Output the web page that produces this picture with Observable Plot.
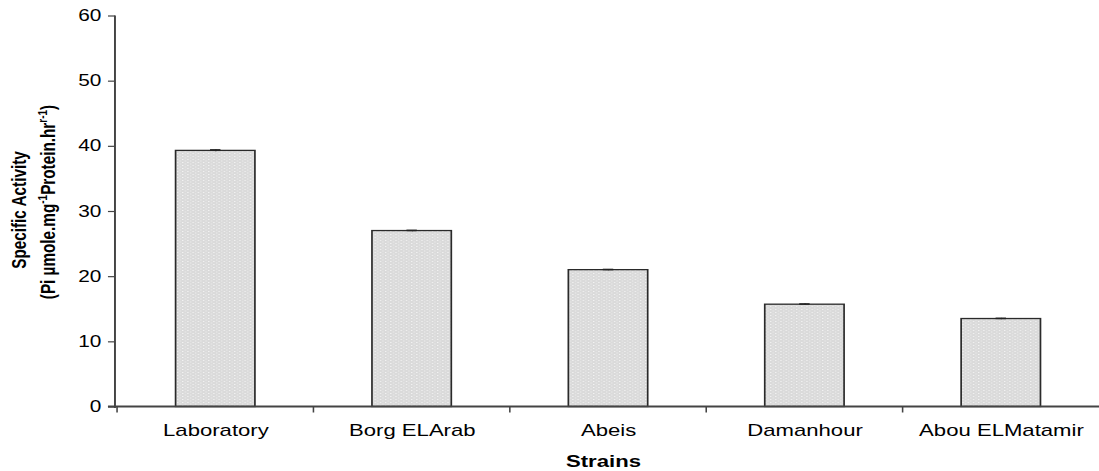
<!DOCTYPE html>
<html>
<head>
<meta charset="utf-8">
<script src="https://cdn.jsdelivr.net/npm/d3@7"></script>
<script src="https://cdn.jsdelivr.net/npm/@observablehq/plot@0.6"></script>
<style>
  html, body { margin: 0; padding: 0; background: #fff; }
  #chart { width: 1099px; height: 471px; overflow: hidden; }
</style>
</head>
<body>
<div id="chart"></div>
<script>
const strains = ["Laboratory", "Borg ELArab", "Abeis", "Damanhour", "Abou ELMatamir"];
const activity = [39.3, 27.0, 21.0, 15.7, 13.5];
const errors = [0.15, 0.1, 0.1, 0.1, 0.1];
const yTicks = [0, 10, 20, 30, 40, 50, 60];
const xTitle = "Strains";
const yTitle1 = "Specific Activity";

const data = strains.map((s, i) => ({strain: s, value: activity[i], err: errors[i]}));

// drawn on a narrower canvas, then stretched horizontally like the reference
const W = 845, H = 471, OUT_W = 1099;
const padL = 88.4, padR = 846.5, padT = 15.5, padB = 406.5;
const FONT = "'Liberation Sans', Arial, Helvetica, sans-serif";

const plot = Plot.plot({
  width: W, height: H,
  marginLeft: padL, marginRight: 0, marginTop: padT, marginBottom: H - padB,
  x: {domain: strains, range: [padL, padR], padding: 0, label: null},
  y: {domain: [0, 60], range: [padB, padT], label: null},
  style: {fontFamily: FONT, fontSize: "16px", color: "#000", background: "#fff"},
  marks: [
    Plot.barY(data, {x: "strain", y: "value", fill: "url(#dots)", stroke: "#2a2a2a", strokeWidth: 1.3, insetLeft: 45, insetRight: 45}),
    Plot.ruleX(data, {x: "strain", y1: d => d.value - d.err, y2: d => d.value + d.err, stroke: "#222", strokeWidth: 1}),
    Plot.tickY(data, {x: "strain", y: d => d.value + d.err, stroke: "#222", strokeWidth: 1.6, insetLeft: 71.5, insetRight: 71.5}),
    Plot.axisY({ticks: yTicks, tickSize: 5.4, tickPadding: 5.5, fontSize: 16, stroke: "#444", strokeWidth: 1.2, label: null}),
    Plot.axisX({tickSize: 0, tickPadding: 16.5, fontSize: 17, label: null})
  ]
});

const svg = d3.select(plot);
svg.attr("width", OUT_W).attr("height", H)
   .attr("viewBox", `0 0 ${W} ${H}`)
   .attr("preserveAspectRatio", "none")
   .style("width", OUT_W + "px").style("height", H + "px").style("max-width", "none");

// bar fill texture
const defs = svg.insert("defs", ":first-child");
const pat = defs.append("pattern").attr("id", "dots").attr("patternUnits", "userSpaceOnUse")
  .attr("width", 4).attr("height", 3);
pat.append("rect").attr("width", 4).attr("height", 3).attr("fill", "#dadada");
pat.append("rect").attr("x", 0).attr("y", 0).attr("width", 1).attr("height", 1).attr("fill", "#f2f2f2");
pat.append("rect").attr("x", 2).attr("y", 1.5).attr("width", 1).attr("height", 1).attr("fill", "#ececec");

const xs = plot.scale("x"), ys = plot.scale("y");
const y0 = ys.apply(0);
const g = svg.append("g").attr("stroke", "#444").attr("fill", "none");
// y axis line
g.append("line").attr("x1", padL).attr("x2", padL).attr("y1", ys.apply(60)).attr("y2", y0 + 1.5).attr("stroke-width", 1.5);
// x axis line
g.append("line").attr("x1", padL - 5.4).attr("x2", W).attr("y1", y0).attr("y2", y0).attr("stroke-width", 2);
// x ticks at category boundaries
strains.forEach(s => {
  const xb = xs.apply(s);
  g.append("line").attr("x1", xb).attr("x2", xb).attr("y1", y0).attr("y2", y0 + 6).attr("stroke-width", 1.2);
});

// x title
svg.append("text").attr("x", 464).attr("y", 467).attr("text-anchor", "middle")
  .attr("font-family", FONT).attr("font-weight", "bold").attr("font-size", 17).attr("fill", "#000")
  .text(xTitle);

// y title, two lines
svg.append("text").attr("transform", "translate(20,210) rotate(-90)").attr("text-anchor", "middle")
  .attr("font-family", FONT).attr("font-weight", "bold").attr("font-size", 15.3).attr("fill", "#000")
  .text(yTitle1);
const t2 = svg.append("text").attr("transform", "translate(42.3,202) rotate(-90)").attr("text-anchor", "middle")
  .attr("font-family", FONT).attr("font-weight", "bold").attr("font-size", 15.3).attr("fill", "#000");
t2.append("tspan").text("(Pi µmole.mg");
t2.append("tspan").attr("dy", -6).attr("font-size", 10).text("-1");
t2.append("tspan").attr("dy", 6).text("Protein.hr");
t2.append("tspan").attr("dy", -6).attr("font-size", 10).text("r-1");
t2.append("tspan").attr("dy", 6).text(")");

document.getElementById("chart").appendChild(plot);
</script>
</body>
</html>
